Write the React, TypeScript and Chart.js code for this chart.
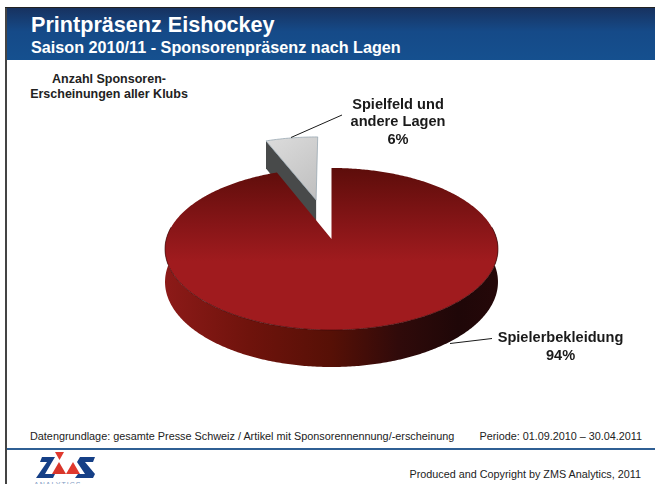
import React, { useEffect, useRef } from "react";
import { Chart, registerables } from "chart.js";

Chart.register(...registerables);

const categories = ["Spielerbekleidung", "Spielfeld und andere Lagen"];
const shares = [94, 6];
const sliceColors = ["#a01b1e", "#c8c8c8"];
const labelLines = [["Spielerbekleidung"], ["Spielfeld und", "andere Lagen"]];
const title = "Printpräsenz Eishockey";
const subtitle = "Saison 2010/11 - Sponsorenpräsenz nach Lagen";
const note = ["Anzahl Sponsoren-", "Erscheinungen aller Klubs"];
const basis = "Datengrundlage: gesamte Presse Schweiz / Artikel mit Sponsorennennung/-erscheinung";
const period = "Periode: 01.09.2010 – 30.04.2011";
const copyright = "Produced and Copyright by ZMS Analytics, 2011";
const FONT = '"Liberation Sans", Arial, sans-serif';

const K = 0.1235, RX = 165.2, RY = 79.8, DEPTH = 32.4;

const pie3d = {
  id: "pie3d",
  beforeDatasetsDraw(chart: any) {
    const ctx = chart.ctx;
    const arcs = chart.getDatasetMeta(0).data;
    const [main, side] = arcs;
    const cx = main.x, cy = main.y;
    const P = (X: number, Y: number, z = 0): [number, number] => {
      const w = 1 - K * Y;
      return [cx + (RX * X) / w, cy + (RY * Y) / w + (z * DEPTH) / w];
    };
    const poly = (pts: [number, number][]) => {
      ctx.beginPath();
      pts.forEach((p, i) => (i ? ctx.lineTo(p[0], p[1]) : ctx.moveTo(p[0], p[1])));
      ctx.closePath();
    };
    const arcPts = (a0: number, a1: number, ox: number, oy: number, z = 0) => {
      const n = Math.max(2, Math.ceil((a1 - a0) * 90));
      const out: [number, number][] = [];
      for (let i = 0; i <= n; i++) {
        const a = a0 + ((a1 - a0) * i) / n;
        out.push(P(ox + Math.cos(a), oy + Math.sin(a), z));
      }
      return out;
    };

    // exploded slice
    const mid = (side.startAngle + side.endAngle) / 2;
    const d = side.options.offset / side.outerRadius;
    const ox = Math.cos(mid) * d, oy = Math.sin(mid) * d;
    const sa = side.startAngle;
    poly([
      P(ox, oy),
      P(ox + Math.cos(sa), oy + Math.sin(sa)),
      P(ox + Math.cos(sa), oy + Math.sin(sa), 1),
      P(ox, oy, 1),
    ]);
    ctx.fillStyle = "#484a4a";
    ctx.fill();
    poly([P(ox, oy), ...arcPts(side.startAngle, side.endAngle, ox, oy)]);
    const gs = ctx.createLinearGradient(266, 138, 317, 205);
    gs.addColorStop(0, "#dcdcdc");
    gs.addColorStop(1, "#bdbdbd");
    ctx.fillStyle = gs;
    ctx.fill();
    ctx.strokeStyle = "#8fa0ac";
    ctx.lineWidth = 0.7;
    ctx.stroke();

    // main slice wall
    const wall = ctx.createLinearGradient(166, 0, 498, 0);
    wall.addColorStop(0, "#8c1a18");
    wall.addColorStop(0.25, "#6f130c");
    wall.addColorStop(0.5, "#561006");
    wall.addColorStop(0.7, "#300a0a");
    wall.addColorStop(0.88, "#1f0708");
    wall.addColorStop(1, "#250809");
    const front0 = -0.15, front1 = Math.PI + 0.15;
    const topEdge = arcPts(front0, front1, 0, 0);
    const botEdge = arcPts(front0, front1, 0, 0, 1).reverse();
    poly([...topEdge, ...botEdge]);
    ctx.fillStyle = wall;
    ctx.fill();

    // main slice top
    poly([P(0, 0), ...arcPts(main.startAngle, main.endAngle, 0, 0)]);
    const g = ctx.createLinearGradient(0, 167, 0, 330);
    g.addColorStop(0, "#5c0d0a");
    g.addColorStop(0.35, "#861517");
    g.addColorStop(0.58, "#a01b1e");
    g.addColorStop(1, "#a01b1e");
    ctx.fillStyle = g;
    ctx.fill();
    ctx.beginPath();
    topEdge.forEach((p, i) => (i ? ctx.lineTo(p[0], p[1]) : ctx.moveTo(p[0], p[1])));
    ctx.strokeStyle = "#3c0a0a";
    ctx.lineWidth = 0.7;
    ctx.stroke();

    // leader lines
    ctx.strokeStyle = "#1a1a1a";
    ctx.lineWidth = 1;
    ctx.beginPath();
    ctx.moveTo(291, 137.5);
    ctx.lineTo(342, 115);
    ctx.moveTo(450, 343.5);
    ctx.lineTo(492, 338.5);
    ctx.stroke();

    // labels
    ctx.fillStyle = "#1a1a1a";
    ctx.textAlign = "center";
    ctx.textBaseline = "alphabetic";
    ctx.font = `bold 14.6px ${FONT}`;
    const pct = chart.data.datasets[0].data;
    const placed = [
      { x: 560.5, ys: [342, 360] },
      { x: 398, ys: [109, 126, 144] },
    ];
    labelLines.forEach((lines, i) => {
      [...lines, `${pct[i]}%`].forEach((t, j) => ctx.fillText(t, placed[i].x, placed[i].ys[j]));
    });
    return false;
  },
};

export default function App() {
  const ref = useRef<HTMLCanvasElement>(null);
  useEffect(() => {
    document.body.style.margin = "0";
    const chart = new Chart(ref.current as HTMLCanvasElement, {
      type: "pie",
      data: {
        labels: categories,
        datasets: [{ data: shares, backgroundColor: sliceColors, borderWidth: 0, offset: [0, 70.7] }],
      },
      options: {
        responsive: false,
        animation: false,
        rotation: 0,
        layout: { padding: { left: 16, right: 8, top: 70, bottom: 76 } },
        plugins: { legend: { display: false }, tooltip: { enabled: false } },
      },
      plugins: [pie3d],
    } as any);
    return () => chart.destroy();
  }, []);

  const text = (s: React.CSSProperties): React.CSSProperties => ({
    position: "absolute",
    fontFamily: FONT,
    whiteSpace: "nowrap",
    ...s,
  });

  return (
    <div style={{ position: "fixed", left: 0, top: 0, width: 655, height: 484, overflow: "hidden", background: "#fff" }}>
      <div style={{ position: "absolute", left: 5, top: 7, width: 650, height: 52, background: "linear-gradient(#173260 0%, #154a88 45%, #15508f 100%)", borderTop: "1px solid #222" }} />
      <div style={{ position: "absolute", left: 5, top: 8, width: 2, height: 476, background: "#444" }} />
      <div style={{ position: "absolute", left: 7, top: 448, width: 648, height: 2, background: "#2f5f94" }} />
      <div style={text({ left: 31, top: 13, fontSize: 21.6, lineHeight: "24px", fontWeight: "bold", color: "#fff" })}>{title}</div>
      <div style={text({ left: 31, top: 38, fontSize: 16.2, lineHeight: "18px", fontWeight: "bold", color: "#fff" })}>{subtitle}</div>
      {note.map((t, i) => (
        <div key={t} style={text({ left: 9, width: 200, textAlign: "center", top: 72 + i * 14.5, fontSize: 12.5, lineHeight: "15px", fontWeight: "bold", color: "#222" })}>{t}</div>
      ))}
      <div style={text({ left: 30, top: 429, fontSize: 10.85, lineHeight: "14px", color: "#222" })}>{basis}</div>
      <div style={text({ right: 13, top: 429, fontSize: 10.8, lineHeight: "14px", color: "#222" })}>{period}</div>
      <div style={text({ right: 14, top: 467, fontSize: 10.8, lineHeight: "14px", color: "#222" })}>{copyright}</div>
      <svg style={{ position: "absolute", left: 33, top: 450 }} width={70} height={34} viewBox="0 0 70 34">
        <polygon points="22,2 31,2 26.5,10" fill="#e0392e" />
        <polygon points="19,24 26,12 33,24" fill="#d8352a" />
        <polygon points="33,24 40,12 47,24" fill="#e0392e" />
        <polygon points="9,7 22,7 19,12 12,24 22,24 20,28 3,28 14,12 7,12" fill="#153f86" />
        <polygon points="47,7 62,7 60,12 52,12 62,24 60,28 42,28 45,24 52,24 44,12" fill="#153f86" />
      </svg>
      <div style={text({ left: 34, top: 481, fontSize: 7, lineHeight: "8px", letterSpacing: 1, color: "#7f9cc4" })}>ANALYTICS</div>
      <canvas ref={ref} width={655} height={484} style={{ position: "absolute", left: 0, top: 0, display: "block" }} />
    </div>
  );
}
